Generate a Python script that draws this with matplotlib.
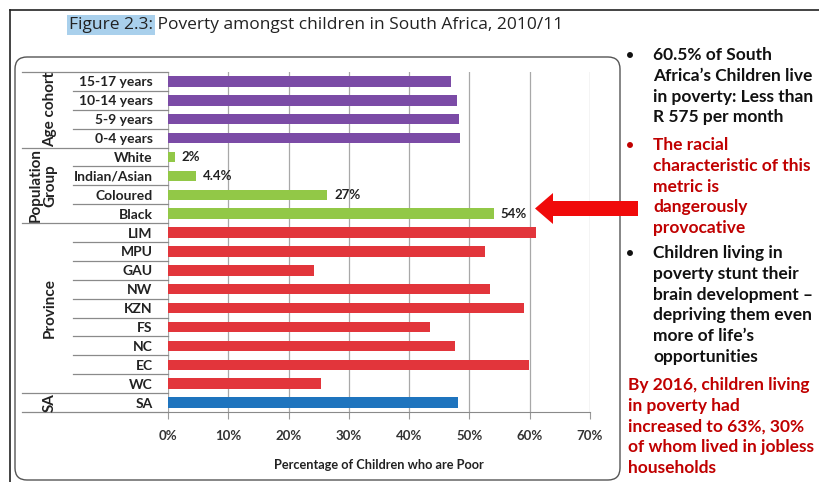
import matplotlib
matplotlib.use("Agg")
import matplotlib.pyplot as plt
import matplotlib.transforms as mtransforms
from matplotlib.patches import FancyBboxPatch, FancyArrow

plt.rcParams['font.family'] = ['Lato', 'DejaVu Sans']

# data, top row first
categories = ['15-17 years', '10-14 years', '5-9 years', '0-4 years',
              'White', 'Indian/Asian', 'Coloured', 'Black',
              'LIM', 'MPU', 'GAU', 'NW', 'KZN', 'FS', 'NC', 'EC', 'WC',
              'SA']
values = [46.9, 47.9, 48.3, 48.5,
          1.1, 4.7, 26.4, 54.0,
          61.0, 52.6, 24.2, 53.4, 59.0, 43.4, 47.6, 59.9, 25.3,
          48.1]
groups = ['age'] * 4 + ['pop'] * 4 + ['prov'] * 9 + ['sa']
value_labels = {4: '2%', 5: '4.4%', 6: '27%', 7: '54%'}
group_names = [('Age cohort', 0, 3), ('Population\nGroup', 4, 7),
               ('Province', 8, 16), ('SA', 17, 17)]
xticks = [0, 10, 20, 30, 40, 50, 60, 70]

colors = {'age': '#7B4BA6', 'pop': '#92C847', 'prov': '#E2353B', 'sa': '#1E74BE'}

W, H = 820, 482
fig = plt.figure(figsize=(W / 100, H / 100), dpi=100)


def box(x0, y0, x1, y1):
    return [x0 / W, 1 - y1 / H, (x1 - x0) / W, (y1 - y0) / H]


# background overlay for frames
bg = fig.add_axes([0, 0, 1, 1], zorder=0)
bg.set_xlim(0, W)
bg.set_ylim(H, 0)
bg.axis('off')
bg.plot([10, W], [10, 10], color='#222222', lw=1.2)
bg.plot([10, 10], [10, H], color='#222222', lw=1.2)
bg.add_patch(FancyBboxPatch((15, 57), 605, 423,
                            boxstyle='round,pad=0,rounding_size=12',
                            fc='white', ec='#555555', lw=1.0))

# title
t1 = bg.text(69, 25, 'Figure 2.3:', fontsize=12.5, family='Open Sans',
             va='center', ha='left', color='#222222',
             bbox=dict(boxstyle='square,pad=0.12', fc='#A9D0EC', ec='none'))
bg.annotate(' Poverty amongst children in South Africa, 2010/11',
            xy=(1, 0.5), xycoords=t1, va='center', ha='left',
            fontsize=12.5, family='Open Sans', color='#222222')

# main chart
ax = fig.add_axes(box(168, 72, 590, 412), zorder=1)
ax.patch.set_alpha(0)
ypos = list(range(len(categories)))
ax.barh(ypos, values, height=0.55, color=[colors[g] for g in groups], zorder=3)
ax.set_xlim(0, 70)
ax.set_ylim(len(categories) - 0.5, -0.5)
ax.set_xticks(xticks)
ax.set_xticklabels([f'{t}%' for t in xticks], fontsize=9.5, fontweight='bold',
                   color='#333333')
ax.set_yticks(ypos)
ax.set_yticklabels(categories, fontsize=10, fontweight='bold', color='#222222')
ax.tick_params(axis='y', length=0, pad=11)
ax.tick_params(axis='x', length=5, color='#9A9A9A', pad=8)
ax.grid(axis='x', color='#A8A8A8', lw=0.9, zorder=1)
for s in ['top', 'right', 'left']:
    ax.spines[s].set_visible(False)
ax.spines['bottom'].set_color('#8A8A8A')
ax.set_xlabel('Percentage of Children who are Poor', fontsize=9.2,
              fontweight='bold', color='#222222', labelpad=12)

for i, lab in value_labels.items():
    ax.annotate(lab, xy=(values[i], i), xytext=(5, 0),
                textcoords='offset points', va='center', ha='left',
                fontsize=9.5, fontweight='bold', color='#222222')

trans = mtransforms.blended_transform_factory(ax.transAxes, ax.transData)
group_x0 = (22 - 168) / 422
inner_x0 = (73 - 168) / 422
bounds = {-0.5} | {g[1] - 0.5 for g in group_names} | {len(categories) - 0.5}
for k in range(len(categories) + 1):
    yb = k - 0.5
    x0 = group_x0 if yb in bounds else inner_x0
    ax.plot([x0, 0], [yb, yb], color='#8A8A8A', lw=0.9, transform=trans,
            clip_on=False)

for name, a, b in group_names:
    xc = (43 if '\n' in name else 50) - 168
    ax.text(xc / 422, (a + b) / 2, name, rotation=90, ha='center',
            va='center', fontsize=11, fontweight='bold', color='#222222',
            transform=trans, linespacing=1.0)

# overlay: arrow and side notes
fg = fig.add_axes([0, 0, 1, 1], zorder=2)
fg.set_xlim(0, W)
fg.set_ylim(H, 0)
fg.axis('off')
fg.add_patch(FancyArrow(638, 208.5, -103, 0, width=15, head_width=31,
                        head_length=18, length_includes_head=True,
                        fc='#F00A0A', ec='none'))

black = '#111111'
red = '#C00000'
notes = [
    (55, black, True, ['60.5% of South', 'Africa\u2019s Children live',
                       'in poverty: Less than', 'R 575 per month']),
    (145, red, True, ['The racial', 'characteristic of this', 'metric is',
                      'dangerously', 'provocative']),
    (253, black, True, ['Children living in', 'poverty stunt their',
                        'brain development \u2013', 'depriving them even',
                        'more of life\u2019s', 'opportunities']),
    (385, red, False, ['By 2016, children living', 'in poverty had',
                       'increased to 63%, 30%', 'of whom lived in jobless',
                       'households']),
]
pitch = 20.8
for y0, col, bullet, lines in notes:
    xt = 653 if bullet else 628
    if bullet:
        fg.text(630, y0, '\u2022', color=col, fontsize=10, fontweight='bold',
                ha='center', va='center')
    for j, line in enumerate(lines):
        fg.text(xt, y0 + j * pitch, line, color=col, fontsize=12.5,
                fontweight='bold', ha='left', va='center')

fig.savefig('out.png', dpi=100)
